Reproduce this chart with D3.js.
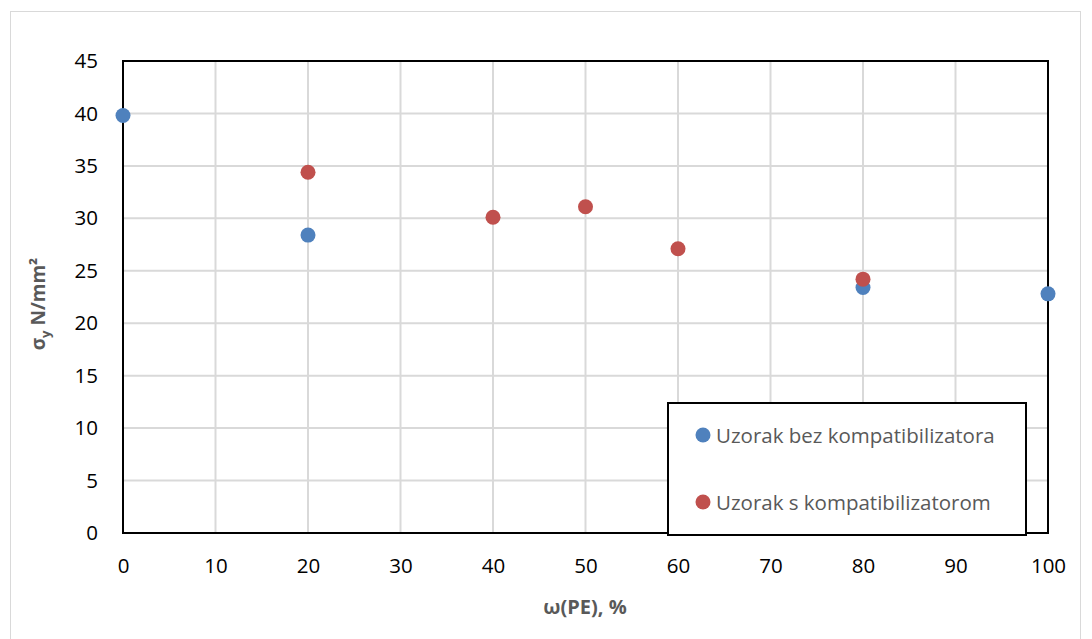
<!DOCTYPE html>
<html><head><meta charset="utf-8">
<script src="https://cdn.jsdelivr.net/npm/d3@7"></script>
<style>body{margin:0;background:#fff;} text{font-family:"Open Sans","Noto Sans",sans-serif;}</style>
</head><body>
<svg id="c" width="1092" height="639"></svg>
<script>
const xTicks = [0,10,20,30,40,50,60,70,80,90,100];
const yTicks = [0,5,10,15,20,25,30,35,40,45];
const seriesNames = ["Uzorak bez kompatibilizatora","Uzorak s kompatibilizatorom"];
const seriesColors = ["#4F81BD","#C0504D"];
const bezX = [0,20,80,100];
const bezY = [39.8,28.4,23.4,22.8];
const sX = [20,40,50,60,80];
const sY = [34.4,30.1,31.1,27.1,24.2];

const svg = d3.select("#c");
svg.append("rect").attr("x",10.5).attr("y",11.5).attr("width",1070).attr("height",640).attr("fill","#fff").attr("stroke","#d9d9d9");
const L=123,T=61,R=1048,B=533;
const x = d3.scaleLinear().domain([0,100]).range([L,R]);
const y = d3.scaleLinear().domain([0,45]).range([B,T]);
const g = svg.append("g");
g.selectAll(".gx").data(xTicks).join("line").attr("x1",d=>x(d)).attr("x2",d=>x(d)).attr("y1",T).attr("y2",B).attr("stroke","#d9d9d9").attr("stroke-width",2);
g.selectAll(".gy").data(yTicks).join("line").attr("x1",L).attr("x2",R).attr("y1",d=>y(d)).attr("y2",d=>y(d)).attr("stroke","#d9d9d9").attr("stroke-width",2);
g.append("rect").attr("x",L).attr("y",T).attr("width",R-L).attr("height",B-T).attr("fill","none").attr("stroke","#000").attr("stroke-width",2);

const xa = svg.append("g").attr("transform",`translate(0,${B})`).call(d3.axisBottom(x).tickValues(xTicks).tickSize(0).tickPadding(25));
xa.select(".domain").remove();
xa.selectAll("text").attr("font-size",20.5).attr("fill","#000").attr("font-family","'Open Sans',sans-serif");
const ya = svg.append("g").attr("transform",`translate(${L},0)`).call(d3.axisLeft(y).tickValues(yTicks).tickSize(0).tickPadding(25));
ya.select(".domain").remove();
ya.selectAll("text").attr("font-size",20.5).attr("fill","#000").attr("font-family","'Open Sans',sans-serif");

const data = [bezX.map((v,i)=>({x:v,y:bezY[i],s:0})), sX.map((v,i)=>({x:v,y:sY[i],s:1}))];
data.forEach(ds=>{
  svg.append("g").selectAll("circle").data(ds).join("circle").attr("cx",d=>x(d.x)).attr("cy",d=>y(d.y)).attr("r",7.5).attr("fill",d=>seriesColors[d.s]);
});

svg.append("text").attr("x",585).attr("y",614).attr("text-anchor","middle").attr("font-size",20).attr("font-weight","bold").attr("fill","#595959").text("ω(PE), %");
const yt = svg.append("text").attr("transform","translate(45,304) rotate(-90)").attr("text-anchor","middle").attr("font-size",19).attr("font-weight","bold").attr("fill","#595959");
yt.append("tspan").text("σ");
yt.append("tspan").attr("font-size",13).attr("dy",5).text("y");
yt.append("tspan").attr("dy",-5).text(" N/mm²");

const lg = svg.append("g");
lg.append("rect").attr("x",668).attr("y",403).attr("width",358).attr("height",132).attr("fill","#fff").attr("stroke","#000").attr("stroke-width",2);
seriesNames.forEach((n,i)=>{
  const cy = 435 + i*67;
  lg.append("circle").attr("cx",703).attr("cy",cy).attr("r",7.5).attr("fill",seriesColors[i]);
  lg.append("text").attr("x",716).attr("y",cy+8).attr("font-size",20.5).attr("fill","#595959").text(n);
});
</script>
</body></html>
